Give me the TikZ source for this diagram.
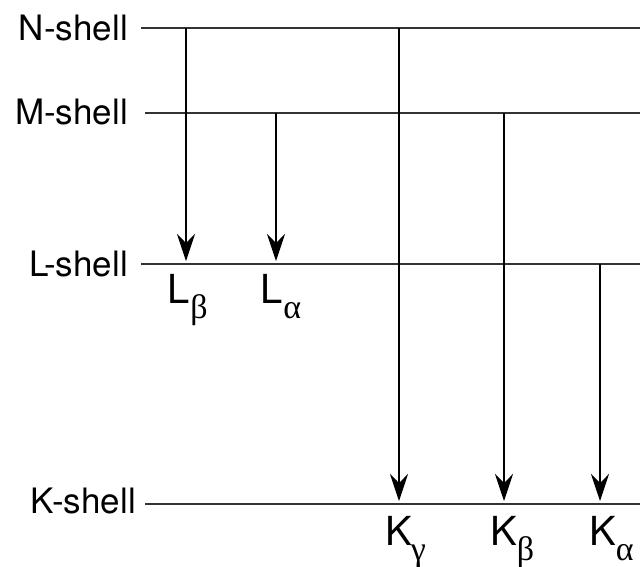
\documentclass[tikz,border=0pt]{standalone}
\usepackage{fontspec}
\setmainfont{TeX Gyre Heros}
\newfontfamily\grk{Liberation Serif}
\usetikzlibrary{arrows.meta}
\tikzset{
  shellline/.style={draw=black!80, line width=1.8pt},
  shelltext/.style={anchor=east, inner sep=0pt, font=\fontsize{35}{40}\selectfont},
  trans/.style={draw=black, line width=1.1pt, shorten >=3pt,
    -{Stealth[length=27pt, width=18pt, inset=9pt]}},
  lab/.style={anchor=base west, inner sep=0pt}
}
\newcommand{\lbl}[3]{{\fontsize{40}{44}\selectfont #1}\kern#3\raisebox{-15pt}{\grk\fontsize{34}{36}\selectfont #2}}
\begin{document}
\begin{tikzpicture}[x=1pt, y=-1pt]
\useasboundingbox (0,0) rectangle (640,566);
% shell labels
\node[shelltext] (nN) at (128,28) {N-shell};
\node[shelltext] (nM) at (128,112) {M-shell};
\node[shelltext] (nL) at (128,264) {L-shell};
\node[shelltext] (nK) at (136,501) {K-shell};
% shell lines
\coordinate (N0) at (141,28);  \coordinate (N1) at (640,28);
\coordinate (M0) at (145,113); \coordinate (M1) at (640,113);
\coordinate (L0) at (141,264); \coordinate (L1) at (640,264);
\coordinate (K0) at (145,504); \coordinate (K1) at (640,504);
\draw[shellline] (N0) -- (N1);
\draw[shellline] (M0) -- (M1);
\draw[shellline] (L0) -- (L1);
\draw[shellline] (K0) -- (K1);
% transition points
\coordinate (lbS) at (186,28);  \coordinate (lbE) at (186,264);
\coordinate (laS) at (276,113); \coordinate (laE) at (276,264);
\coordinate (kgS) at (399,28);  \coordinate (kgE) at (399,504);
\coordinate (kbS) at (504,113); \coordinate (kbE) at (504,504);
\coordinate (kaS) at (600,264); \coordinate (kaE) at (600,504);
\draw[trans] (lbS) -- (lbE);
\draw[trans] (laS) -- (laE);
\draw[trans] (kgS) -- (kgE);
\draw[trans] (kbS) -- (kbE);
\draw[trans] (kaS) -- (kaE);
% transition labels
\node[lab] (tLb) at (167,303) {\lbl{L}{β}{1pt}};
\node[lab] (tLa) at (260,303) {\lbl{L}{α}{1pt}};
\node[lab] (tKg) at (385,545) {\lbl{K}{γ}{-1pt}};
\node[lab] (tKb) at (490,545) {\lbl{K}{β}{0pt}};
\node[lab] (tKa) at (589,545) {\lbl{K}{α}{0pt}};
\end{tikzpicture}
\end{document}
